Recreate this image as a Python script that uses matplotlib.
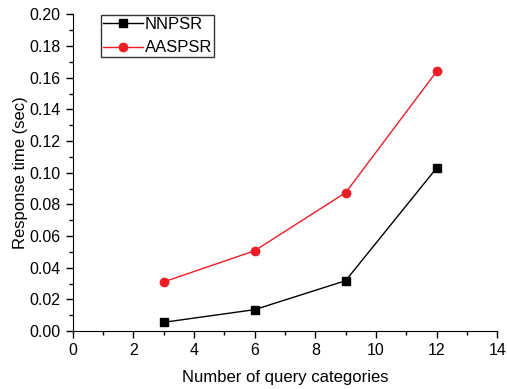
import numpy as np
import matplotlib.pyplot as plt
from matplotlib.ticker import MultipleLocator

categories = [3, 6, 9, 12]
nnpsr = [0.0055, 0.0135, 0.0318, 0.103]
aaspsr = [0.031, 0.0507, 0.0874, 0.164]

plt.rcParams['font.family'] = ['Liberation Sans', 'DejaVu Sans']
plt.rcParams['font.size'] = 11.5

fig = plt.figure(figsize=(5.07, 3.89), dpi=100)
ax = fig.add_axes([0.143, 0.149, 0.838, 0.814])

ax.plot(categories, nnpsr, color='black', lw=1, marker='s', ms=5.2, label='NNPSR')
ax.plot(categories, aaspsr, color='#ee1c25', lw=1, marker='o', ms=6, label='AASPSR')

ax.set_xlim(0, 14)
ax.set_ylim(0, 0.20)
ax.xaxis.set_major_locator(MultipleLocator(2))
ax.xaxis.set_minor_locator(MultipleLocator(1))
ax.yaxis.set_major_locator(MultipleLocator(0.02))
ax.yaxis.set_minor_locator(MultipleLocator(0.01))
ax.yaxis.set_major_formatter(plt.FormatStrFormatter('%.2f'))
ax.tick_params(which='major', direction='out', length=5, width=1, labelsize=11.5)
ax.tick_params(which='minor', direction='out', length=3, width=1)
for s in ['top', 'right']:
    ax.spines[s].set_visible(False)

ax.set_xlabel("Number of query categories", fontsize=12, labelpad=9)
ax.set_ylabel("Response time (sec)", fontsize=12, labelpad=1)

leg = ax.legend(loc='upper left', bbox_to_anchor=(0.067, 0.998), frameon=True, fancybox=False,
                edgecolor='black', fontsize=12, borderpad=0.12, borderaxespad=0,
                handlelength=2.4, handletextpad=0.1, labelspacing=0.5)
leg.get_frame().set_linewidth(1)
leg.get_frame().set_boxstyle('square', pad=0)

fig.savefig("out.png", dpi=100)
